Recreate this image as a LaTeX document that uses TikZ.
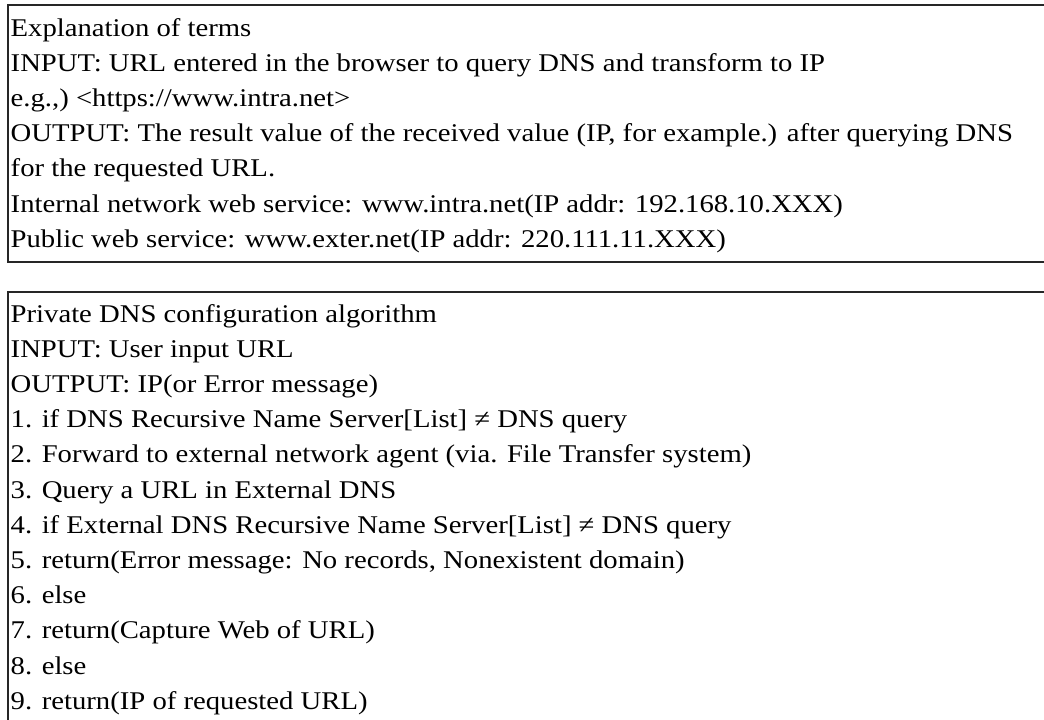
\documentclass[tikz,border=0pt]{standalone}
\usepackage{fontspec}
\setmainfont{Liberation Serif}[FakeStretch=1.125]
\begin{document}
\begin{tikzpicture}[x=1pt,y=-1pt,
  txt/.style={font=\fontsize{25.5}{30}\selectfont, anchor=base west, inner sep=0pt},
  frame/.style={draw=black!85, line width=1.3pt}]
\useasboundingbox (0,0) rectangle (1044,720);
\clip (0,0) rectangle (1044,720);
% the two framed text blocks, open to the right
\draw[frame] (8,5) rectangle (1080,262);
\draw[frame] (8,292) rectangle (1080,780);
% terms block
\foreach [count=\i] \t in {
  {Explanation of terms},
  {INPUT: URL entered in the browser to query DNS and transform to IP},
  {e.g.,) <https://www.intra.net>},
  {OUTPUT: The result value of the received value (IP, for example.) after querying DNS},
  {for the requested URL.},
  {Internal network web service: www.intra.net(IP addr: 192.168.10.XXX)},
  {Public web service: www.exter.net(IP addr: 220.111.11.XXX)}}
  \node[txt] (a\i) at (10.5,{36.5+35.1*(\i-1)}) {\t};
% algorithm block
\foreach [count=\i] \t in {
  {Private DNS configuration algorithm},
  {INPUT: User input URL},
  {OUTPUT: IP(or Error message)},
  {1. if DNS Recursive Name Server[List] ≠ DNS query},
  {2. Forward to external network agent (via. File Transfer system)},
  {3. Query a URL in External DNS},
  {4. if External DNS Recursive Name Server[List] ≠ DNS query},
  {5. return(Error message: No records, Nonexistent domain)},
  {6. else},
  {7. return(Capture Web of URL)},
  {8. else},
  {9. return(IP of requested URL)}}
  \node[txt] (b\i) at (10.5,{322+35.2*(\i-1)}) {\t};
\end{tikzpicture}
\end{document}
